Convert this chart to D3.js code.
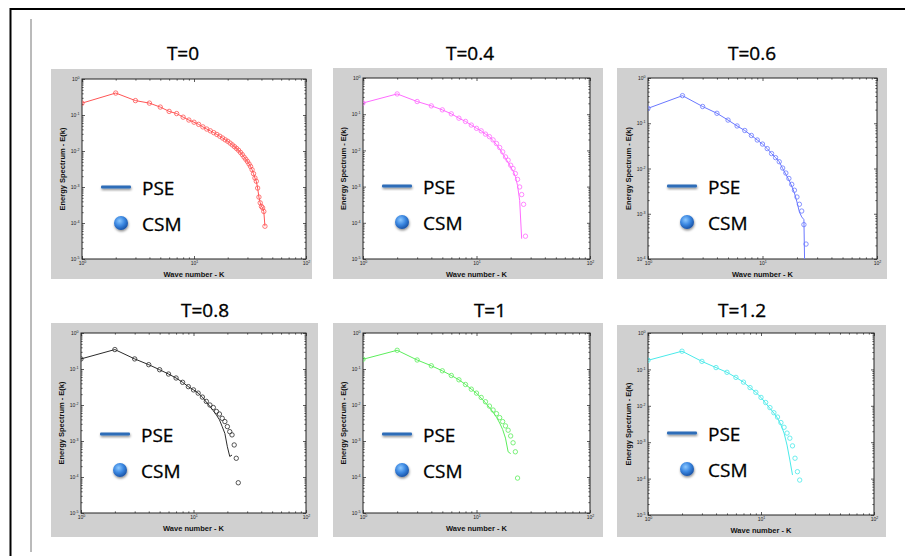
<!DOCTYPE html>
<meta charset="utf-8" />
<style>
  body { margin: 0; background: #fff; overflow: hidden; }
  svg { display: block; font-family: "Liberation Sans", Arial, sans-serif; }
</style>
<body>
<svg id="chart" width="911" height="556"></svg>
<script src="https://d3js.org/d3.v7.min.js"></script>
<script>
// values, stored as log10 E(k), for k = 1, 2, 3 ...
var titles = ["T=0", "T=0.4", "T=0.6", "T=0.8", "T=1", "T=1.2"];

var pse_t0 = [-0.67,-0.39,-0.60,-0.67,-0.78,-0.90,-0.96,-1.06,-1.14,-1.20,
  -1.26,-1.33,-1.39,-1.44,-1.49,-1.54,-1.59,-1.64,-1.69,-1.73,
  -1.78,-1.83,-1.88,-1.93,-1.98,-2.04,-2.10,-2.17,-2.23,-2.29,
  -2.36,-2.43,-2.52,-2.63,-2.75,-2.84,-3.03,-3.28,-3.44,-3.54,
  -3.58,-3.68,-4.09];
var csm_t0 = pse_t0.slice();

var pse_t04 = [-0.69,-0.44,-0.65,-0.77,-0.88,-0.99,-1.11,-1.20,-1.30,-1.39,
  -1.46,-1.55,-1.62,-1.73,-1.84,-1.96,-2.09,-2.22,-2.33,-2.46,
  -2.57,-2.72,-2.97,-3.38,-4.44];
var csm_t04 = [-0.69,-0.44,-0.65,-0.77,-0.88,-0.99,-1.11,-1.20,-1.30,-1.39,
  -1.46,-1.55,-1.62,-1.71,-1.81,-1.92,-2.04,-2.18,-2.27,-2.41,
  -2.50,-2.64,-2.80,-3.01,-3.22,-3.49,-4.37];

var pse_t06 = [-0.67,-0.39,-0.63,-0.78,-0.93,-1.06,-1.16,-1.27,-1.37,-1.46,
  -1.56,-1.67,-1.76,-1.85,-2.00,-2.13,-2.25,-2.39,-2.54,-2.74,
  -2.96,-3.07,-3.13,-6.00];
var csm_t06 = [-0.67,-0.39,-0.63,-0.78,-0.93,-1.06,-1.16,-1.27,-1.37,-1.46,
  -1.56,-1.67,-1.76,-1.85,-1.99,-2.10,-2.22,-2.35,-2.48,-2.63,
  -2.79,-2.94,-3.24,-3.67];

var pse_t08 = [-0.72,-0.46,-0.72,-0.88,-1.02,-1.14,-1.25,-1.37,-1.49,-1.58,
  -1.67,-1.78,-1.92,-2.04,-2.16,-2.28,-2.41,-2.60,-2.79,-3.16,
  -3.43,-3.39];
var csm_t08 = [-0.72,-0.46,-0.72,-0.88,-1.02,-1.14,-1.25,-1.37,-1.49,-1.58,
  -1.67,-1.78,-1.90,-2.00,-2.07,-2.18,-2.25,-2.37,-2.46,-2.60,
  -2.74,-2.83,-3.11,-3.48,-4.16];

var pse_t1 = [-0.73,-0.48,-0.75,-0.91,-1.05,-1.18,-1.30,-1.43,-1.56,-1.67,
  -1.81,-1.94,-2.07,-2.20,-2.34,-2.50,-2.68,-2.92,-3.30,-3.35];
var csm_t1 = [-0.73,-0.48,-0.75,-0.91,-1.05,-1.18,-1.30,-1.43,-1.56,-1.67,
  -1.79,-1.91,-2.03,-2.14,-2.24,-2.35,-2.46,-2.58,-2.70,-2.86,
  -3.05,-3.30,-4.03];

var pse_t12 = [-0.75,-0.50,-0.78,-0.95,-1.08,-1.22,-1.35,-1.50,-1.63,-1.77,
  -1.93,-2.07,-2.20,-2.34,-2.52,-2.75,-3.08,-3.49,-3.90];
var csm_t12 = [-0.75,-0.50,-0.78,-0.95,-1.08,-1.22,-1.35,-1.50,-1.63,-1.77,
  -1.91,-2.05,-2.19,-2.31,-2.46,-2.59,-2.75,-2.89,-3.10,-3.44,
  -3.81,-4.04];

var pseSeries = [pse_t0, pse_t04, pse_t06, pse_t08, pse_t1, pse_t12];
var csmSeries = [csm_t0, csm_t04, csm_t06, csm_t08, csm_t1, csm_t12];
var yLowExp = [-5, -5, -4, -5, -5, -5];
var xTickExp = [0, 1, 2];

var colours = ["#ff5555", "#ff6bff", "#6a78ff", "#2b2b2b", "#5cee5c", "#4aeaea"];

// gray box, plot rect, title, legend placement
var layout = [
  {gx: 51,  gy: 69,  gw: 261, gh: 210, px: 82,  py: 79,  pw: 224, ph: 180, tx: 183, ty: 60,  ly: 108},
  {gx: 333, gy: 68,  gw: 270, gh: 211, px: 363, py: 78,  pw: 227, ph: 181, tx: 470, ty: 60,  ly: 108},
  {gx: 617, gy: 68,  gw: 270, gh: 211, px: 648, py: 78,  pw: 229, ph: 181, tx: 752, ty: 60,  ly: 108},
  {gx: 51,  gy: 323, gw: 267, gh: 214, px: 81,  py: 333, pw: 225, ph: 180, tx: 205, ty: 317, ly: 101},
  {gx: 333, gy: 323, gw: 270, gh: 214, px: 363, py: 333, pw: 227, ph: 180, tx: 490, ty: 317, ly: 101},
  {gx: 617, gy: 325, gw: 269, gh: 212, px: 648, py: 333, pw: 226, ph: 182, tx: 742, ty: 317, ly: 100}
];

var svg = d3.select("#chart");

// page frame
svg.append("line").attr("x1", 10).attr("x2", 905).attr("y1", 9).attr("y2", 9)
  .attr("stroke", "#000").attr("stroke-width", 2);
svg.append("line").attr("x1", 10.5).attr("x2", 10.5).attr("y1", 8).attr("y2", 556)
  .attr("stroke", "#000").attr("stroke-width", 2);
svg.append("line").attr("x1", 31).attr("x2", 31).attr("y1", 19).attr("y2", 552)
  .attr("stroke", "#777").attr("stroke-width", 1);

var defs = svg.append("defs");
var grad = defs.append("radialGradient").attr("id", "ball").attr("cx", "40%").attr("cy", "35%").attr("r", "65%");
grad.append("stop").attr("offset", "0%").attr("stop-color", "#8cc8ff");
grad.append("stop").attr("offset", "55%").attr("stop-color", "#3a86e0");
grad.append("stop").attr("offset", "100%").attr("stop-color", "#1b55a8");
var sh = defs.append("filter").attr("id", "shadow").attr("x", "-50%").attr("y", "-100%").attr("width", "200%").attr("height", "300%");
sh.append("feDropShadow").attr("dx", 0.5).attr("dy", 1.5).attr("stdDeviation", 1).attr("flood-opacity", 0.45);

var textFont = "'Open Sans', sans-serif";

function supLabels(sel) {
  sel.selectAll(".tick text").each(function(d) {
    var e = Math.round(Math.log10(d));
    var t = d3.select(this).text("10").attr("font-size", 5).attr("fill", "#222");
    t.append("tspan").attr("dy", "-0.55em").attr("font-size", 3.6).text(e);
  });
}

layout.forEach(function(L, i) {
  var g = svg.append("g");
  g.append("rect").attr("x", L.gx).attr("y", L.gy).attr("width", L.gw).attr("height", L.gh).attr("fill", "#d0d0d0");

  g.append("text").attr("x", L.tx).attr("y", L.ty).attr("text-anchor", "middle")
    .attr("font-family", textFont).attr("font-size", 19).attr("fill", "#000")
    .attr("stroke", "#000").attr("stroke-width", 0.35)
    .text(titles[i]);

  var x = d3.scaleLog().domain([1, 100]).range([0, L.pw]);
  var y = d3.scaleLog().domain([Math.pow(10, yLowExp[i]), 1]).range([L.ph, 0]);

  var p = g.append("g").attr("transform", "translate(" + L.px + "," + L.py + ")");
  p.append("rect").attr("width", L.pw).attr("height", L.ph).attr("fill", "#fff");

  var xMaj = xTickExp.map(function(e) { return Math.pow(10, e); });
  var xMin = [];
  [1, 10].forEach(function(b) { d3.range(2, 10).forEach(function(m) { xMin.push(b * m); }); });
  var yMaj = d3.range(yLowExp[i], 1).map(function(e) { return Math.pow(10, e); });
  var yMin = [];
  d3.range(yLowExp[i], 0).forEach(function(e) { d3.range(2, 10).forEach(function(m) { yMin.push(m * Math.pow(10, e)); }); });

  function axis(gen, vals, size, tr, labels) {
    var a = p.append("g").attr("transform", tr)
      .call(gen.tickValues(vals).tickSizeInner(-size).tickSizeOuter(0).tickPadding(2.5)
        .tickFormat(labels ? function() { return "10"; } : ""));
    a.select(".domain").remove();
    a.selectAll("line").attr("stroke", "#333").attr("stroke-width", 0.8);
    if (labels) supLabels(a);
    return a;
  }
  axis(d3.axisBottom(x), xMaj, 3, "translate(0," + L.ph + ")", true);
  axis(d3.axisBottom(x), xMin, 1.6, "translate(0," + L.ph + ")", false);
  axis(d3.axisTop(x), xMaj, 3, "translate(0,0)", false);
  axis(d3.axisTop(x), xMin, 1.6, "translate(0,0)", false);
  axis(d3.axisLeft(y), yMaj, 3, "translate(0,0)", true);
  axis(d3.axisLeft(y), yMin, 1.6, "translate(0,0)", false);
  axis(d3.axisRight(y), yMaj, 3, "translate(" + L.pw + ",0)", false);
  axis(d3.axisRight(y), yMin, 1.6, "translate(" + L.pw + ",0)", false);

  p.append("rect").attr("width", L.pw).attr("height", L.ph).attr("fill", "none")
    .attr("stroke", "#222").attr("stroke-width", 1);

  // axis titles
  p.append("text").attr("x", L.pw / 2).attr("y", L.ph + 18).attr("text-anchor", "middle")
    .attr("font-size", 7.5).attr("font-weight", "bold").attr("fill", "#111").text("Wave number - K");
  p.append("text").attr("transform", "translate(-17," + (L.ph / 2) + ") rotate(-90)")
    .attr("text-anchor", "middle").attr("font-size", 7.5).attr("font-weight", "bold").attr("fill", "#111")
    .text("Energy Spectrum - E(k)");

  var clipId = "clip" + i;
  defs.append("clipPath").attr("id", clipId).append("rect").attr("width", L.pw).attr("height", L.ph);
  var data = p.append("g").attr("clip-path", "url(#" + clipId + ")");

  var pts = function(arr) { return arr.map(function(v, k) { return {k: k + 1, e: Math.pow(10, v)}; }); };
  var line = d3.line().x(function(d) { return x(d.k); }).y(function(d) { return y(d.e); });

  data.append("path").datum(pts(pseSeries[i])).attr("d", line)
    .attr("fill", "none").attr("stroke", colours[i]).attr("stroke-width", 1);
  data.selectAll("circle").data(pts(csmSeries[i])).enter().append("circle")
    .attr("cx", function(d) { return x(d.k); }).attr("cy", function(d) { return y(d.e); })
    .attr("r", 2.2).attr("fill", "none").attr("stroke", colours[i]).attr("stroke-width", 0.8);

  // legend
  var lg = p.append("g");
  lg.append("rect").attr("x", 19).attr("y", L.ly - 1.5).attr("width", 30).attr("height", 3).attr("rx", 1)
    .attr("fill", "#2f6db8").attr("filter", "url(#shadow)");
  lg.append("text").attr("x", 60).attr("y", L.ly + 7.5)
    .attr("font-family", textFont).attr("font-size", 19).attr("fill", "#000")
    .attr("stroke", "#000").attr("stroke-width", 0.3).text("PSE");
  lg.append("circle").attr("cx", 39).attr("cy", L.ly + 36).attr("r", 7)
    .attr("fill", "url(#ball)").attr("filter", "url(#shadow)");
  lg.append("text").attr("x", 60).attr("y", L.ly + 43.5)
    .attr("font-family", textFont).attr("font-size", 19).attr("fill", "#000")
    .attr("stroke", "#000").attr("stroke-width", 0.3).text("CSM");
});
</script>
</body>
